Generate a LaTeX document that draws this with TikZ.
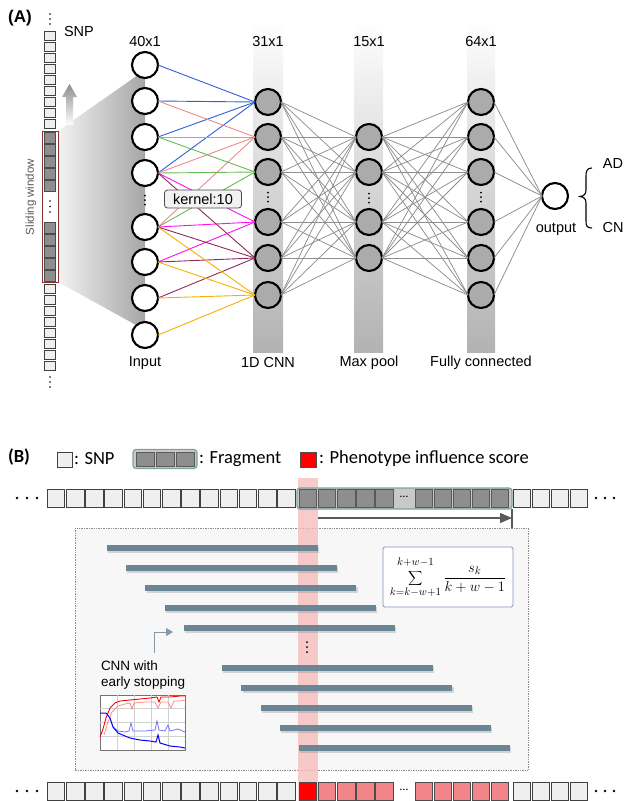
\documentclass[tikz,border=0pt]{standalone}
\usepackage{fontspec}
\setmainfont{Liberation Sans}
\newfontfamily\calibfont{Carlito}
\usetikzlibrary{arrows.meta,shadows}

\definecolor{kblue}{HTML}{2F5FD8}
\definecolor{kpink}{HTML}{EC8A8A}
\definecolor{kgreen}{HTML}{68B955}
\definecolor{kmag}{HTML}{FF10F0}
\definecolor{kmaroon}{HTML}{8E2B5B}
\definecolor{kgold}{HTML}{F2B200}
\definecolor{unitgray}{HTML}{ABABAB}
\definecolor{wiregray}{HTML}{8E8E8E}
\definecolor{winred}{HTML}{8A3232}
\definecolor{snplight}{HTML}{EFEFEF}
\definecolor{snpdark}{HTML}{8E8E8E}
\definecolor{fragfill}{HTML}{C9C9C9}
\definecolor{fragedge}{HTML}{7EA2A2}
\definecolor{bandpink}{HTML}{F8BDBD}
\definecolor{scorepink}{HTML}{F2858A}
\definecolor{barslate}{HTML}{6A8694}
\definecolor{formedge}{HTML}{7F95B8}
\definecolor{pointer}{HTML}{8797A3}
\definecolor{panelfill}{HTML}{F7F7F7}

\begin{document}
\begin{tikzpicture}[x=1pt,y=-1pt,
  every node/.style={inner sep=0pt, outer sep=0pt},
  lab/.style={font=\fontsize{14.5}{17}\selectfont},
  leg/.style={font=\calibfont\fontsize{18.5}{20}\selectfont, anchor=west},
  unitin/.style={circle, draw=black, line width=2.1pt, fill=white, minimum size=26pt},
  unithid/.style={unitin, fill=unitgray},
  wire/.style={line width=0.9pt},
  gwire/.style={line width=0.75pt, draw=wiregray},
  snpcell/.style={draw=black!75, fill=snplight, line width=0.6pt, minimum width=11pt, minimum height=9pt},
  snpwin/.style={draw=black!70, fill=snpdark, line width=0.6pt, minimum width=11pt, minimum height=10.5pt},
  cell/.style={draw=black!75, fill=snplight, line width=0.8pt, minimum width=17.5pt, minimum height=18pt},
  darkcell/.style={cell, fill=snpdark, draw=black!65},
  hitcell/.style={cell, fill=red, draw=black!70},
  pinkcell/.style={cell, fill=scorepink, draw=black!70},
  bar/.style={fill=barslate, minimum width=211pt, minimum height=6pt, anchor=west,
    drop shadow={shadow xshift=1.2pt, shadow yshift=-2.2pt, opacity=0.3}},
  colbar/.style={top color=white, bottom color=black!30, middle color=black!16}
]
\useasboundingbox (0,0) rectangle (637,801);

% ================= panel A =================
\node[font=\bfseries\fontsize{17}{19}\selectfont] (tagA) at (20,18) {(A)};

% layer columns
\shade[colbar] (253,20) rectangle (283,352);
\shade[colbar] (354,20) rectangle (383,352);
\shade[colbar] (467,20) rectangle (495,352);

% fan from the window to the input layer
\shade[left color=black!5, right color=black!35] (58,131) -- (145,70) -- (145,330) -- (58,282) -- cycle;

% direction of the sliding window
\shade[top color=black!45, bottom color=white] (66,125) -- (66,97) -- (62,97) -- (69.5,84) -- (77,97) -- (73,97) -- (73,125) -- cycle;

% SNP column
\foreach \k in {14,19,24} \fill (50,\k) circle (0.9pt);
\foreach \k in {0,...,8} \node[snpcell] (sa\k) at (50,36+11*\k) {};
\foreach \k in {0,...,4} \node[snpwin] (wa\k) at (50,138+12*\k) {};
\foreach \k in {0,...,4} \node[snpwin] (wb\k) at (50,228+12*\k) {};
\foreach \k in {201,206.5,212} \fill (50,\k) circle (0.9pt);
\node[draw=winred, line width=1pt, minimum width=16pt, minimum height=151pt] (win) at (50,206.5) {};
\foreach \k in {0,...,7} \node[snpcell] (sb\k) at (50,289+11*\k) {};
\foreach \k in {377,382,387} \fill (50,\k) circle (0.9pt);
\node[rotate=90, text=black!65, font=\fontsize{11.5}{13}\selectfont] (slw) at (31,197) {Sliding window};
\node[lab, anchor=west] (snplab) at (64,32) {SNP};

% units
\foreach \y [count=\n] in {65,101,137,173,227,262,298,335} \node[unitin] (i\n) at (145,\y) {};
\foreach \y [count=\n] in {102,137,172,222,258,295} \node[unithid] (c\n) at (268,\y) {};
\foreach \y [count=\n] in {137,172,222,258} \node[unithid] (m\n) at (369,\y) {};
\foreach \y [count=\n] in {102,137,172,222,258,295} \node[unithid] (f\n) at (481,\y) {};
\node[unitin] (out) at (555,196) {};

% gaps in the layers
\foreach \x/\y in {145/200,268/197,369/198,481/197}
  \foreach \d in {-4.5,0,4.5} \fill (\x,\y+\d) circle (1pt);

% convolution kernel wires
\foreach \a in {1,2,3,4} \draw[wire, kblue] (i\a.east) -- (c1.west);
\foreach \a in {2,3,4,5} \draw[wire, kpink] (i\a.east) -- (c2.west);
\foreach \a in {3,4,5} \draw[wire, kgreen] (i\a.east) -- (c3.west);
\foreach \a in {4,5,6} \draw[wire, kmag] (i\a.east) -- (c4.west);
\foreach \a in {4,5,6,7} \draw[wire, kmaroon] (i\a.east) -- (c5.west);
\foreach \a in {5,6,7,8} \draw[wire, kgold] (i\a.east) -- (c6.west);

% dense wires
\foreach \a in {1,...,6} \foreach \b in {1,...,4} \draw[gwire] (c\a.east) -- (m\b.west);
\foreach \a in {1,...,4} \foreach \b in {1,...,6} \draw[gwire] (m\a.east) -- (f\b.west);
\foreach \a in {1,...,6} \draw[gwire] (f\a.east) -- (out.west);

\node[lab, draw=black!70, fill=black!5, rounded corners=3pt, line width=0.8pt,
      minimum width=77pt, minimum height=18pt] (kern) at (203,199) {kernel:10};

% layer captions
\node[lab] (t1) at (145,42) {40x1};
\node[lab] (t2) at (268,42) {31x1};
\node[lab] (t3) at (369,42) {15x1};
\node[lab] (t4) at (481,42) {64x1};
\node[lab] (b1) at (145,363) {Input};
\node[lab] (b2) at (268,363) {1D CNN};
\node[lab] (b3) at (369,363) {Max pool};
\node[lab] (b4) at (481,363) {Fully connected};

% output classes
\node[lab] (outlab) at (556,229) {output};
\node[lab] (ad) at (613,164) {AD};
\node[lab] (cn) at (613,228) {CN};
\draw[line width=1.1pt] (592,168) .. controls (587,168) and (586,171) .. (586,176) -- (586,190)
  .. controls (586,194) and (584,196) .. (580,196.5)
  .. controls (584,197) and (586,199) .. (586,203) -- (586,221)
  .. controls (586,226) and (587,228) .. (592,228);

% ================= panel B =================
\node[font=\calibfont\bfseries\fontsize{18.5}{20}\selectfont] (tagB) at (19,457) {(B)};

% legend
\node[cell, minimum width=15pt, minimum height=15pt] (lgsnp) at (64.5,459.5) {};
\node[leg] (lgsnpt) at (74,459) {: SNP};
\node[draw=fragedge, fill=fragfill, rounded corners=3pt, line width=1.2pt,
      minimum width=64pt, minimum height=19pt] (lgfrag) at (165,459) {};
\foreach \x in {145.5,165.5,185.5} \node[darkcell, minimum width=17.5pt, minimum height=14pt] at (\x,459) {};
\node[leg] (lgfragt) at (199,459) {: Fragment};
\node[hitcell, minimum width=16pt, minimum height=15pt] (lgred) at (308.5,459.5) {};
\node[leg] (lgredt) at (319,459) {: Phenotype influence score};

% fragment ensemble panel
\draw[densely dotted, black!45, fill=panelfill, line width=0.7pt] (75,528) rectangle (528,770);
\fill[bandpink, opacity=0.8] (298,478) rectangle (318,801);

% SNP sequence with the fragment
\foreach \x in {17,27,37} \fill (\x,498) circle (1.4pt);
\foreach \k in {0,...,12} \node[cell] (ta\k) at (56+19.2*\k,498) {};
\node[draw=fragedge, fill=fragfill, rounded corners=3pt, line width=1.2pt,
      minimum width=215pt, minimum height=21pt] (frag) at (404.5,498.5) {};
\foreach \k in {0,...,4} \node[darkcell] (tf\k) at (308+19.1*\k,498) {};
\node[font=\calibfont\fontsize{12}{12}\selectfont] (tfdots) at (404,497) {\dots};
\foreach \k in {0,...,4} \node[darkcell] (tg\k) at (424+19*\k,498) {};
\foreach \k in {0,...,3} \node[cell] (tb\k) at (522+19*\k,498) {};
\foreach \x in {596,605,614} \fill (\x,498) circle (1.4pt);

% stride arrow
\coordinate (strS) at (318,518);
\coordinate (strE) at (512,518);
\coordinate (strT) at (512,509);
\coordinate (strB) at (512,528);
\draw[line width=1.2pt, black!65, -{Triangle[length=12pt,width=10pt]}] (strS) -- (strE);
\draw[line width=1.2pt, black!65] (strT) -- (strB);

% sliding fragments
\foreach \k in {0,...,4,6,7,8,9,10}
  \node[bar] (fr\k) at (107+19.2*\k,548+20*\k) {};
\foreach \d in {-5,0,5} \fill (307,647+\d) circle (1pt);

% score formula
\node[draw=formedge, fill=white, line width=0.9pt, rounded corners=1.5pt,
      minimum width=130pt, minimum height=60pt] (fml) at (448,577)
  {\fontsize{15}{17}\selectfont$\displaystyle
   \sum_{\rule{0pt}{7pt}k=k-w+1}^{k+w-1\rule[-4pt]{0pt}{4pt}}\frac{s_k}{k+w-1}$};

% training note
\node[font=\fontsize{13.5}{15.5}\selectfont, align=left, anchor=west] (cnnnote) at (101,675)
  {CNN with\\early stopping};
\coordinate (pS) at (154,653);
\coordinate (pE) at (173,632);
\draw[pointer, line width=1pt, -{Triangle[length=7pt,width=8pt]}] (pS) |- (pE);

% learning curves
\draw[black!55, fill=white, line width=0.8pt] (100,695) rectangle (185,750);
\foreach \x in {117,134,151,168} \draw[black!18, line width=0.5pt] (\x,695) -- (\x,750);
\foreach \y in {708,722,736} \draw[black!18, line width=0.5pt] (100,\y) -- (185,\y);
\draw[red!45, line width=0.8pt] (104,735) -- (108,722) -- (112,712) -- (118,706) -- (125,704) -- (130,703)
  -- (132,709) -- (134,703) -- (145,702) -- (155,702) -- (158,708) -- (161,702) -- (168,702) -- (171,708)
  -- (174,701) -- (180,701) -- (185,700);
\draw[red, line width=0.9pt] (100,737) -- (103,729) -- (106,718) -- (110,708) -- (115,703) -- (120,701)
  -- (130,700) -- (140,699) -- (150,698) -- (157,697) -- (159,702) -- (161,697) -- (170,697) -- (180,696) -- (185,696);
\draw[blue!55, line width=0.8pt] (113,727) -- (118,731) -- (125,732) -- (129,731) -- (131,723) -- (133,731)
  -- (145,731) -- (155,730) -- (157,721) -- (159,730) -- (165,731) -- (168,725) -- (170,731) -- (178,729) -- (185,732);
\draw[blue, line width=1pt] (100,713) -- (106,713) -- (110,718) -- (113,727) -- (118,733) -- (125,736)
  -- (130,738) -- (140,740) -- (150,741) -- (156,742) -- (158,735) -- (160,743) -- (170,746) -- (180,747) -- (185,748);

% SNP sequence with influence scores
\foreach \x in {17,27,37} \fill (\x,791) circle (1.4pt);
\foreach \k in {0,...,12} \node[cell] (ba\k) at (56+19.2*\k,791) {};
\node[hitcell] (bhit) at (308,791) {};
\foreach \k in {1,...,4} \node[pinkcell] (bp\k) at (308+19.1*\k,791) {};
\node[font=\calibfont\fontsize{12}{12}\selectfont] (bpdots) at (404,790) {\dots};
\foreach \k in {0,...,4} \node[pinkcell] (bq\k) at (424+19*\k,791) {};
\foreach \k in {0,...,3} \node[cell] (bb\k) at (522+19*\k,791) {};
\foreach \x in {596,605,614} \fill (\x,791) circle (1.4pt);
\end{tikzpicture}
\end{document}
